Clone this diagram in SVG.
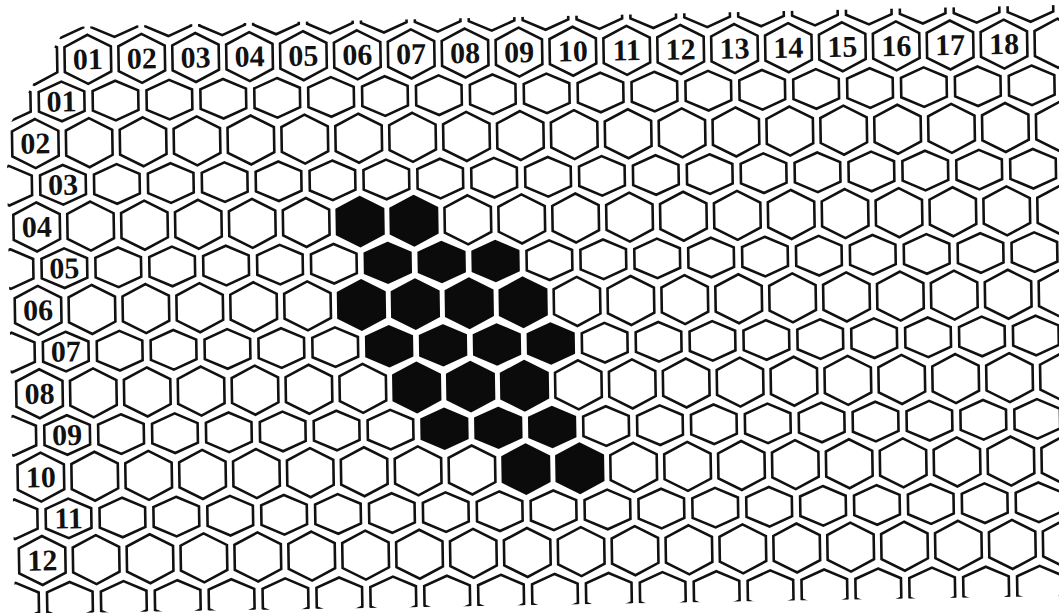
<svg xmlns="http://www.w3.org/2000/svg" xmlns:xlink="http://www.w3.org/1999/xlink" width="1059" height="613" viewBox="0 0 1059 613">
<style>
.w{fill:#fff;stroke:#111;stroke-width:2.6}
.k{fill:#0b0b0b;stroke:#0b0b0b;stroke-width:2.6}
.t{font-family:"Liberation Serif","Times New Roman",serif;font-weight:bold;font-size:30px;fill:#111;text-anchor:middle}
</style>
<defs>
<polygon id="e" points="0,-24.5 23.2,-12.5 23.2,12.5 0,24.5 -23.2,12.5 -23.2,-12.5"/>
<polygon id="o" points="0,-19.8 22.8,-9.8 22.8,9.8 0,19.8 -22.8,9.8 -22.8,-9.8"/>
<clipPath id="cl"><polygon points="66,27 1059,5 1059,596 15,614 7,170 9.5,125"/></clipPath>
</defs>
<rect width="1059" height="613" fill="#fff"/>
<g clip-path="url(#cl)">
<g id="grid" transform="rotate(-0.95 530 300)">
<g id="rowm1" transform="translate(0,10.3)">
<g id="rm1c0"><use href="#o" x="65" class="w"/></g>
<g id="rm1c1"><use href="#o" x="118.9" class="w"/></g>
<g id="rm1c2"><use href="#o" x="172.8" class="w"/></g>
<g id="rm1c3"><use href="#o" x="226.7" class="w"/></g>
<g id="rm1c4"><use href="#o" x="280.6" class="w"/></g>
<g id="rm1c5"><use href="#o" x="334.5" class="w"/></g>
<g id="rm1c6"><use href="#o" x="388.4" class="w"/></g>
<g id="rm1c7"><use href="#o" x="442.3" class="w"/></g>
<g id="rm1c8"><use href="#o" x="496.2" class="w"/></g>
<g id="rm1c9"><use href="#o" x="550.1" class="w"/></g>
<g id="rm1c10"><use href="#o" x="604" class="w"/></g>
<g id="rm1c11"><use href="#o" x="657.9" class="w"/></g>
<g id="rm1c12"><use href="#o" x="711.8" class="w"/></g>
<g id="rm1c13"><use href="#o" x="765.7" class="w"/></g>
<g id="rm1c14"><use href="#o" x="819.6" class="w"/></g>
<g id="rm1c15"><use href="#o" x="873.5" class="w"/></g>
<g id="rm1c16"><use href="#o" x="927.4" class="w"/></g>
<g id="rm1c17"><use href="#o" x="981.3" class="w"/></g>
<g id="rm1c18"><use href="#o" x="1035.2" class="w"/></g>
</g>
<g id="row00" transform="translate(0,52)">
<g id="r00c0"><use href="#e" x="38" class="w"/></g>
<g id="col01"><use href="#e" x="91.9" class="w"/><text class="t" x="91.9" y="10">01</text></g>
<g id="col02"><use href="#e" x="145.8" class="w"/><text class="t" x="145.8" y="10">02</text></g>
<g id="col03"><use href="#e" x="199.7" class="w"/><text class="t" x="199.7" y="10">03</text></g>
<g id="col04"><use href="#e" x="253.6" class="w"/><text class="t" x="253.6" y="10">04</text></g>
<g id="col05"><use href="#e" x="307.5" class="w"/><text class="t" x="307.5" y="10">05</text></g>
<g id="col06"><use href="#e" x="361.4" class="w"/><text class="t" x="361.4" y="10">06</text></g>
<g id="col07"><use href="#e" x="415.3" class="w"/><text class="t" x="415.3" y="10">07</text></g>
<g id="col08"><use href="#e" x="469.2" class="w"/><text class="t" x="469.2" y="10">08</text></g>
<g id="col09"><use href="#e" x="523.1" class="w"/><text class="t" x="523.1" y="10">09</text></g>
<g id="col10"><use href="#e" x="577" class="w"/><text class="t" x="577" y="10">10</text></g>
<g id="col11"><use href="#e" x="630.9" class="w"/><text class="t" x="630.9" y="10">11</text></g>
<g id="col12"><use href="#e" x="684.8" class="w"/><text class="t" x="684.8" y="10">12</text></g>
<g id="col13"><use href="#e" x="738.7" class="w"/><text class="t" x="738.7" y="10">13</text></g>
<g id="col14"><use href="#e" x="792.6" class="w"/><text class="t" x="792.6" y="10">14</text></g>
<g id="col15"><use href="#e" x="846.5" class="w"/><text class="t" x="846.5" y="10">15</text></g>
<g id="col16"><use href="#e" x="900.4" class="w"/><text class="t" x="900.4" y="10">16</text></g>
<g id="col17"><use href="#e" x="954.3" class="w"/><text class="t" x="954.3" y="10">17</text></g>
<g id="col18"><use href="#e" x="1008.2" class="w"/><text class="t" x="1008.2" y="10">18</text></g>
<g id="r00c19"><use href="#e" x="1062.1" class="w"/></g>
</g>
<g id="row01" transform="translate(0,93.7)">
<g id="r01cm1"><use href="#o" x="11.1" class="w"/></g>
<g id="lab01"><use href="#o" x="65" class="w"/><text class="t" x="65" y="10">01</text></g>
<g id="r01c1"><use href="#o" x="118.9" class="w"/></g>
<g id="r01c2"><use href="#o" x="172.8" class="w"/></g>
<g id="r01c3"><use href="#o" x="226.7" class="w"/></g>
<g id="r01c4"><use href="#o" x="280.6" class="w"/></g>
<g id="r01c5"><use href="#o" x="334.5" class="w"/></g>
<g id="r01c6"><use href="#o" x="388.4" class="w"/></g>
<g id="r01c7"><use href="#o" x="442.3" class="w"/></g>
<g id="r01c8"><use href="#o" x="496.2" class="w"/></g>
<g id="r01c9"><use href="#o" x="550.1" class="w"/></g>
<g id="r01c10"><use href="#o" x="604" class="w"/></g>
<g id="r01c11"><use href="#o" x="657.9" class="w"/></g>
<g id="r01c12"><use href="#o" x="711.8" class="w"/></g>
<g id="r01c13"><use href="#o" x="765.7" class="w"/></g>
<g id="r01c14"><use href="#o" x="819.6" class="w"/></g>
<g id="r01c15"><use href="#o" x="873.5" class="w"/></g>
<g id="r01c16"><use href="#o" x="927.4" class="w"/></g>
<g id="r01c17"><use href="#o" x="981.3" class="w"/></g>
<g id="r01c18"><use href="#o" x="1035.2" class="w"/></g>
</g>
<g id="row02" transform="translate(0,135.4)">
<g id="lab02"><use href="#e" x="38" class="w"/><text class="t" x="38" y="10">02</text></g>
<g id="r02c1"><use href="#e" x="91.9" class="w"/></g>
<g id="r02c2"><use href="#e" x="145.8" class="w"/></g>
<g id="r02c3"><use href="#e" x="199.7" class="w"/></g>
<g id="r02c4"><use href="#e" x="253.6" class="w"/></g>
<g id="r02c5"><use href="#e" x="307.5" class="w"/></g>
<g id="r02c6"><use href="#e" x="361.4" class="w"/></g>
<g id="r02c7"><use href="#e" x="415.3" class="w"/></g>
<g id="r02c8"><use href="#e" x="469.2" class="w"/></g>
<g id="r02c9"><use href="#e" x="523.1" class="w"/></g>
<g id="r02c10"><use href="#e" x="577" class="w"/></g>
<g id="r02c11"><use href="#e" x="630.9" class="w"/></g>
<g id="r02c12"><use href="#e" x="684.8" class="w"/></g>
<g id="r02c13"><use href="#e" x="738.7" class="w"/></g>
<g id="r02c14"><use href="#e" x="792.6" class="w"/></g>
<g id="r02c15"><use href="#e" x="846.5" class="w"/></g>
<g id="r02c16"><use href="#e" x="900.4" class="w"/></g>
<g id="r02c17"><use href="#e" x="954.3" class="w"/></g>
<g id="r02c18"><use href="#e" x="1008.2" class="w"/></g>
<g id="r02c19"><use href="#e" x="1062.1" class="w"/></g>
</g>
<g id="row03" transform="translate(0,177.1)">
<g id="r03cm1"><use href="#o" x="11.1" class="w"/></g>
<g id="lab03"><use href="#o" x="65" class="w"/><text class="t" x="65" y="10">03</text></g>
<g id="r03c1"><use href="#o" x="118.9" class="w"/></g>
<g id="r03c2"><use href="#o" x="172.8" class="w"/></g>
<g id="r03c3"><use href="#o" x="226.7" class="w"/></g>
<g id="r03c4"><use href="#o" x="280.6" class="w"/></g>
<g id="r03c5"><use href="#o" x="334.5" class="w"/></g>
<g id="r03c6"><use href="#o" x="388.4" class="w"/></g>
<g id="r03c7"><use href="#o" x="442.3" class="w"/></g>
<g id="r03c8"><use href="#o" x="496.2" class="w"/></g>
<g id="r03c9"><use href="#o" x="550.1" class="w"/></g>
<g id="r03c10"><use href="#o" x="604" class="w"/></g>
<g id="r03c11"><use href="#o" x="657.9" class="w"/></g>
<g id="r03c12"><use href="#o" x="711.8" class="w"/></g>
<g id="r03c13"><use href="#o" x="765.7" class="w"/></g>
<g id="r03c14"><use href="#o" x="819.6" class="w"/></g>
<g id="r03c15"><use href="#o" x="873.5" class="w"/></g>
<g id="r03c16"><use href="#o" x="927.4" class="w"/></g>
<g id="r03c17"><use href="#o" x="981.3" class="w"/></g>
<g id="r03c18"><use href="#o" x="1035.2" class="w"/></g>
</g>
<g id="row04" transform="translate(0,218.8)">
<g id="lab04"><use href="#e" x="38" class="w"/><text class="t" x="38" y="10">04</text></g>
<g id="r04c1"><use href="#e" x="91.9" class="w"/></g>
<g id="r04c2"><use href="#e" x="145.8" class="w"/></g>
<g id="r04c3"><use href="#e" x="199.7" class="w"/></g>
<g id="r04c4"><use href="#e" x="253.6" class="w"/></g>
<g id="r04c5"><use href="#e" x="307.5" class="w"/></g>
<g id="r04c6"><use href="#e" x="361.4" class="k"/></g>
<g id="r04c7"><use href="#e" x="415.3" class="k"/></g>
<g id="r04c8"><use href="#e" x="469.2" class="w"/></g>
<g id="r04c9"><use href="#e" x="523.1" class="w"/></g>
<g id="r04c10"><use href="#e" x="577" class="w"/></g>
<g id="r04c11"><use href="#e" x="630.9" class="w"/></g>
<g id="r04c12"><use href="#e" x="684.8" class="w"/></g>
<g id="r04c13"><use href="#e" x="738.7" class="w"/></g>
<g id="r04c14"><use href="#e" x="792.6" class="w"/></g>
<g id="r04c15"><use href="#e" x="846.5" class="w"/></g>
<g id="r04c16"><use href="#e" x="900.4" class="w"/></g>
<g id="r04c17"><use href="#e" x="954.3" class="w"/></g>
<g id="r04c18"><use href="#e" x="1008.2" class="w"/></g>
<g id="r04c19"><use href="#e" x="1062.1" class="w"/></g>
</g>
<g id="row05" transform="translate(0,260.5)">
<g id="r05cm1"><use href="#o" x="11.1" class="w"/></g>
<g id="lab05"><use href="#o" x="65" class="w"/><text class="t" x="65" y="10">05</text></g>
<g id="r05c1"><use href="#o" x="118.9" class="w"/></g>
<g id="r05c2"><use href="#o" x="172.8" class="w"/></g>
<g id="r05c3"><use href="#o" x="226.7" class="w"/></g>
<g id="r05c4"><use href="#o" x="280.6" class="w"/></g>
<g id="r05c5"><use href="#o" x="334.5" class="w"/></g>
<g id="r05c6"><use href="#o" x="388.4" class="k"/></g>
<g id="r05c7"><use href="#o" x="442.3" class="k"/></g>
<g id="r05c8"><use href="#o" x="496.2" class="k"/></g>
<g id="r05c9"><use href="#o" x="550.1" class="w"/></g>
<g id="r05c10"><use href="#o" x="604" class="w"/></g>
<g id="r05c11"><use href="#o" x="657.9" class="w"/></g>
<g id="r05c12"><use href="#o" x="711.8" class="w"/></g>
<g id="r05c13"><use href="#o" x="765.7" class="w"/></g>
<g id="r05c14"><use href="#o" x="819.6" class="w"/></g>
<g id="r05c15"><use href="#o" x="873.5" class="w"/></g>
<g id="r05c16"><use href="#o" x="927.4" class="w"/></g>
<g id="r05c17"><use href="#o" x="981.3" class="w"/></g>
<g id="r05c18"><use href="#o" x="1035.2" class="w"/></g>
</g>
<g id="row06" transform="translate(0,302.2)">
<g id="lab06"><use href="#e" x="38" class="w"/><text class="t" x="38" y="10">06</text></g>
<g id="r06c1"><use href="#e" x="91.9" class="w"/></g>
<g id="r06c2"><use href="#e" x="145.8" class="w"/></g>
<g id="r06c3"><use href="#e" x="199.7" class="w"/></g>
<g id="r06c4"><use href="#e" x="253.6" class="w"/></g>
<g id="r06c5"><use href="#e" x="307.5" class="w"/></g>
<g id="r06c6"><use href="#e" x="361.4" class="k"/></g>
<g id="r06c7"><use href="#e" x="415.3" class="k"/></g>
<g id="r06c8"><use href="#e" x="469.2" class="k"/></g>
<g id="r06c9"><use href="#e" x="523.1" class="k"/></g>
<g id="r06c10"><use href="#e" x="577" class="w"/></g>
<g id="r06c11"><use href="#e" x="630.9" class="w"/></g>
<g id="r06c12"><use href="#e" x="684.8" class="w"/></g>
<g id="r06c13"><use href="#e" x="738.7" class="w"/></g>
<g id="r06c14"><use href="#e" x="792.6" class="w"/></g>
<g id="r06c15"><use href="#e" x="846.5" class="w"/></g>
<g id="r06c16"><use href="#e" x="900.4" class="w"/></g>
<g id="r06c17"><use href="#e" x="954.3" class="w"/></g>
<g id="r06c18"><use href="#e" x="1008.2" class="w"/></g>
<g id="r06c19"><use href="#e" x="1062.1" class="w"/></g>
</g>
<g id="row07" transform="translate(0,343.9)">
<g id="r07cm1"><use href="#o" x="11.1" class="w"/></g>
<g id="lab07"><use href="#o" x="65" class="w"/><text class="t" x="65" y="10">07</text></g>
<g id="r07c1"><use href="#o" x="118.9" class="w"/></g>
<g id="r07c2"><use href="#o" x="172.8" class="w"/></g>
<g id="r07c3"><use href="#o" x="226.7" class="w"/></g>
<g id="r07c4"><use href="#o" x="280.6" class="w"/></g>
<g id="r07c5"><use href="#o" x="334.5" class="w"/></g>
<g id="r07c6"><use href="#o" x="388.4" class="k"/></g>
<g id="r07c7"><use href="#o" x="442.3" class="k"/></g>
<g id="r07c8"><use href="#o" x="496.2" class="k"/></g>
<g id="r07c9"><use href="#o" x="550.1" class="k"/></g>
<g id="r07c10"><use href="#o" x="604" class="w"/></g>
<g id="r07c11"><use href="#o" x="657.9" class="w"/></g>
<g id="r07c12"><use href="#o" x="711.8" class="w"/></g>
<g id="r07c13"><use href="#o" x="765.7" class="w"/></g>
<g id="r07c14"><use href="#o" x="819.6" class="w"/></g>
<g id="r07c15"><use href="#o" x="873.5" class="w"/></g>
<g id="r07c16"><use href="#o" x="927.4" class="w"/></g>
<g id="r07c17"><use href="#o" x="981.3" class="w"/></g>
<g id="r07c18"><use href="#o" x="1035.2" class="w"/></g>
</g>
<g id="row08" transform="translate(0,385.6)">
<g id="lab08"><use href="#e" x="38" class="w"/><text class="t" x="38" y="10">08</text></g>
<g id="r08c1"><use href="#e" x="91.9" class="w"/></g>
<g id="r08c2"><use href="#e" x="145.8" class="w"/></g>
<g id="r08c3"><use href="#e" x="199.7" class="w"/></g>
<g id="r08c4"><use href="#e" x="253.6" class="w"/></g>
<g id="r08c5"><use href="#e" x="307.5" class="w"/></g>
<g id="r08c6"><use href="#e" x="361.4" class="w"/></g>
<g id="r08c7"><use href="#e" x="415.3" class="k"/></g>
<g id="r08c8"><use href="#e" x="469.2" class="k"/></g>
<g id="r08c9"><use href="#e" x="523.1" class="k"/></g>
<g id="r08c10"><use href="#e" x="577" class="w"/></g>
<g id="r08c11"><use href="#e" x="630.9" class="w"/></g>
<g id="r08c12"><use href="#e" x="684.8" class="w"/></g>
<g id="r08c13"><use href="#e" x="738.7" class="w"/></g>
<g id="r08c14"><use href="#e" x="792.6" class="w"/></g>
<g id="r08c15"><use href="#e" x="846.5" class="w"/></g>
<g id="r08c16"><use href="#e" x="900.4" class="w"/></g>
<g id="r08c17"><use href="#e" x="954.3" class="w"/></g>
<g id="r08c18"><use href="#e" x="1008.2" class="w"/></g>
<g id="r08c19"><use href="#e" x="1062.1" class="w"/></g>
</g>
<g id="row09" transform="translate(0,427.3)">
<g id="r09cm1"><use href="#o" x="11.1" class="w"/></g>
<g id="lab09"><use href="#o" x="65" class="w"/><text class="t" x="65" y="10">09</text></g>
<g id="r09c1"><use href="#o" x="118.9" class="w"/></g>
<g id="r09c2"><use href="#o" x="172.8" class="w"/></g>
<g id="r09c3"><use href="#o" x="226.7" class="w"/></g>
<g id="r09c4"><use href="#o" x="280.6" class="w"/></g>
<g id="r09c5"><use href="#o" x="334.5" class="w"/></g>
<g id="r09c6"><use href="#o" x="388.4" class="w"/></g>
<g id="r09c7"><use href="#o" x="442.3" class="k"/></g>
<g id="r09c8"><use href="#o" x="496.2" class="k"/></g>
<g id="r09c9"><use href="#o" x="550.1" class="k"/></g>
<g id="r09c10"><use href="#o" x="604" class="w"/></g>
<g id="r09c11"><use href="#o" x="657.9" class="w"/></g>
<g id="r09c12"><use href="#o" x="711.8" class="w"/></g>
<g id="r09c13"><use href="#o" x="765.7" class="w"/></g>
<g id="r09c14"><use href="#o" x="819.6" class="w"/></g>
<g id="r09c15"><use href="#o" x="873.5" class="w"/></g>
<g id="r09c16"><use href="#o" x="927.4" class="w"/></g>
<g id="r09c17"><use href="#o" x="981.3" class="w"/></g>
<g id="r09c18"><use href="#o" x="1035.2" class="w"/></g>
</g>
<g id="row10" transform="translate(0,469)">
<g id="lab10"><use href="#e" x="38" class="w"/><text class="t" x="38" y="10">10</text></g>
<g id="r10c1"><use href="#e" x="91.9" class="w"/></g>
<g id="r10c2"><use href="#e" x="145.8" class="w"/></g>
<g id="r10c3"><use href="#e" x="199.7" class="w"/></g>
<g id="r10c4"><use href="#e" x="253.6" class="w"/></g>
<g id="r10c5"><use href="#e" x="307.5" class="w"/></g>
<g id="r10c6"><use href="#e" x="361.4" class="w"/></g>
<g id="r10c7"><use href="#e" x="415.3" class="w"/></g>
<g id="r10c8"><use href="#e" x="469.2" class="w"/></g>
<g id="r10c9"><use href="#e" x="523.1" class="k"/></g>
<g id="r10c10"><use href="#e" x="577" class="k"/></g>
<g id="r10c11"><use href="#e" x="630.9" class="w"/></g>
<g id="r10c12"><use href="#e" x="684.8" class="w"/></g>
<g id="r10c13"><use href="#e" x="738.7" class="w"/></g>
<g id="r10c14"><use href="#e" x="792.6" class="w"/></g>
<g id="r10c15"><use href="#e" x="846.5" class="w"/></g>
<g id="r10c16"><use href="#e" x="900.4" class="w"/></g>
<g id="r10c17"><use href="#e" x="954.3" class="w"/></g>
<g id="r10c18"><use href="#e" x="1008.2" class="w"/></g>
<g id="r10c19"><use href="#e" x="1062.1" class="w"/></g>
</g>
<g id="row11" transform="translate(0,510.7)">
<g id="r11cm1"><use href="#o" x="11.1" class="w"/></g>
<g id="lab11"><use href="#o" x="65" class="w"/><text class="t" x="65" y="10">11</text></g>
<g id="r11c1"><use href="#o" x="118.9" class="w"/></g>
<g id="r11c2"><use href="#o" x="172.8" class="w"/></g>
<g id="r11c3"><use href="#o" x="226.7" class="w"/></g>
<g id="r11c4"><use href="#o" x="280.6" class="w"/></g>
<g id="r11c5"><use href="#o" x="334.5" class="w"/></g>
<g id="r11c6"><use href="#o" x="388.4" class="w"/></g>
<g id="r11c7"><use href="#o" x="442.3" class="w"/></g>
<g id="r11c8"><use href="#o" x="496.2" class="w"/></g>
<g id="r11c9"><use href="#o" x="550.1" class="w"/></g>
<g id="r11c10"><use href="#o" x="604" class="w"/></g>
<g id="r11c11"><use href="#o" x="657.9" class="w"/></g>
<g id="r11c12"><use href="#o" x="711.8" class="w"/></g>
<g id="r11c13"><use href="#o" x="765.7" class="w"/></g>
<g id="r11c14"><use href="#o" x="819.6" class="w"/></g>
<g id="r11c15"><use href="#o" x="873.5" class="w"/></g>
<g id="r11c16"><use href="#o" x="927.4" class="w"/></g>
<g id="r11c17"><use href="#o" x="981.3" class="w"/></g>
<g id="r11c18"><use href="#o" x="1035.2" class="w"/></g>
</g>
<g id="row12" transform="translate(0,552.4)">
<g id="lab12"><use href="#e" x="38" class="w"/><text class="t" x="38" y="10">12</text></g>
<g id="r12c1"><use href="#e" x="91.9" class="w"/></g>
<g id="r12c2"><use href="#e" x="145.8" class="w"/></g>
<g id="r12c3"><use href="#e" x="199.7" class="w"/></g>
<g id="r12c4"><use href="#e" x="253.6" class="w"/></g>
<g id="r12c5"><use href="#e" x="307.5" class="w"/></g>
<g id="r12c6"><use href="#e" x="361.4" class="w"/></g>
<g id="r12c7"><use href="#e" x="415.3" class="w"/></g>
<g id="r12c8"><use href="#e" x="469.2" class="w"/></g>
<g id="r12c9"><use href="#e" x="523.1" class="w"/></g>
<g id="r12c10"><use href="#e" x="577" class="w"/></g>
<g id="r12c11"><use href="#e" x="630.9" class="w"/></g>
<g id="r12c12"><use href="#e" x="684.8" class="w"/></g>
<g id="r12c13"><use href="#e" x="738.7" class="w"/></g>
<g id="r12c14"><use href="#e" x="792.6" class="w"/></g>
<g id="r12c15"><use href="#e" x="846.5" class="w"/></g>
<g id="r12c16"><use href="#e" x="900.4" class="w"/></g>
<g id="r12c17"><use href="#e" x="954.3" class="w"/></g>
<g id="r12c18"><use href="#e" x="1008.2" class="w"/></g>
<g id="r12c19"><use href="#e" x="1062.1" class="w"/></g>
</g>
<g id="row13" transform="translate(0,594.1)">
<g id="r13cm1"><use href="#o" x="11.1" class="w"/></g>
<g id="r13c0"><use href="#o" x="65" class="w"/></g>
<g id="r13c1"><use href="#o" x="118.9" class="w"/></g>
<g id="r13c2"><use href="#o" x="172.8" class="w"/></g>
<g id="r13c3"><use href="#o" x="226.7" class="w"/></g>
<g id="r13c4"><use href="#o" x="280.6" class="w"/></g>
<g id="r13c5"><use href="#o" x="334.5" class="w"/></g>
<g id="r13c6"><use href="#o" x="388.4" class="w"/></g>
<g id="r13c7"><use href="#o" x="442.3" class="w"/></g>
<g id="r13c8"><use href="#o" x="496.2" class="w"/></g>
<g id="r13c9"><use href="#o" x="550.1" class="w"/></g>
<g id="r13c10"><use href="#o" x="604" class="w"/></g>
<g id="r13c11"><use href="#o" x="657.9" class="w"/></g>
<g id="r13c12"><use href="#o" x="711.8" class="w"/></g>
<g id="r13c13"><use href="#o" x="765.7" class="w"/></g>
<g id="r13c14"><use href="#o" x="819.6" class="w"/></g>
<g id="r13c15"><use href="#o" x="873.5" class="w"/></g>
<g id="r13c16"><use href="#o" x="927.4" class="w"/></g>
<g id="r13c17"><use href="#o" x="981.3" class="w"/></g>
<g id="r13c18"><use href="#o" x="1035.2" class="w"/></g>
</g>
</g>
</g>
<g id="connectors"/>
</svg>
